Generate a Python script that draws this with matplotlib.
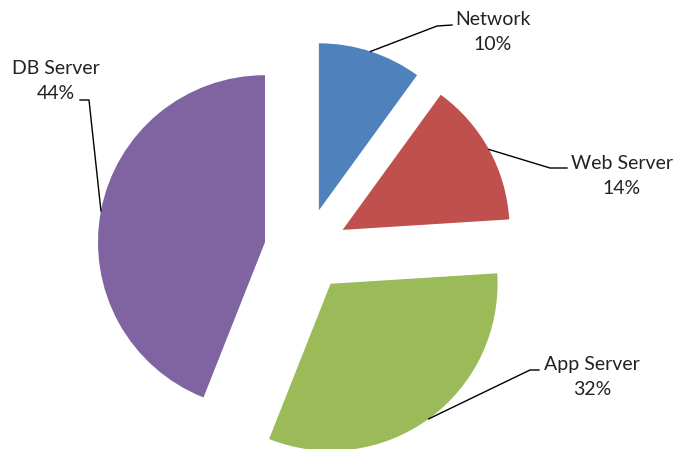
import numpy as np
import matplotlib
matplotlib.use("Agg")
import matplotlib.pyplot as plt

categories = ["Network", "Web Server", "App Server", "DB Server"]
values = [10, 14, 32, 44]
colors = ["#4F81BD", "#C0504D", "#9BBB59", "#8064A2"]

W, H = 677, 449
fig = plt.figure(figsize=(W / 100, H / 100), dpi=100)
ax = fig.add_axes([0, 0, 1, 1])
ax.axis("off")

R = 167
center = (306, 199)
# matplotlib's explode is in data units, so scale by the radius
wedges, _ = ax.pie(values, colors=colors, startangle=90, counterclock=False,
                   explode=[0.25 * R] * len(values), radius=R, center=center,
                   wedgeprops=dict(linewidth=0))
ax.set_xlim(0, W)
ax.set_ylim(0, H)
ax.set_aspect("equal")

# label layout: (text center), elbow point, line end
layout = {
    "Network": ((493, 417), (437, 423), (452, 424)),
    "Web Server": ((622, 273), (550, 281), (567, 281)),
    "App Server": ((592, 72), (530, 79), (539, 79)),
    "DB Server": ((56, 368), (89, 349), (80, 349)),
}

total = sum(values)
for w, cat, v in zip(wedges, categories, values):
    mid = np.deg2rad((w.theta1 + w.theta2) / 2)
    cx, cy = w.center
    ax_pt = (cx + R * np.cos(mid), cy + R * np.sin(mid))
    txt, elbow, end = layout[cat]
    ax.plot([ax_pt[0], elbow[0], end[0]], [ax_pt[1], elbow[1], end[1]],
            color="black", lw=1.0)
    ax.text(txt[0], txt[1], f"{cat}\n{round(100 * v / total)}%", ha="center",
            va="center", fontsize=14, family="Lato", linespacing=1.55,
            color="#222222")

fig.savefig("out.png", dpi=100)
